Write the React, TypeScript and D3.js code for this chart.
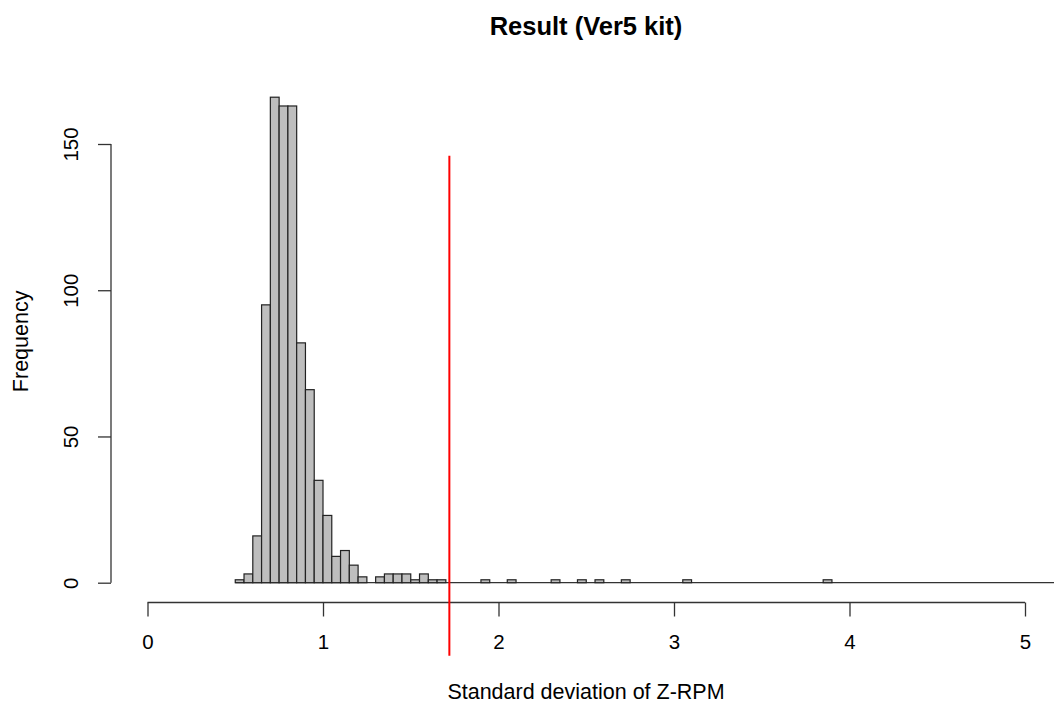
import { useEffect, useRef } from 'react';
import * as d3 from 'd3';

// histogram bins of width 0.05, starting at 0.5
const binStart = 0.5;
const binWidth = 0.05;
const mainCounts = [1, 3, 16, 95, 166, 163, 163, 82, 66, 35, 23, 9, 11, 6, 2, 0, 2, 3, 3, 3, 1, 3, 1, 1];
// single-sample bins further out (left edge of bin)
const outlierBins = [1.9, 2.05, 2.3, 2.45, 2.55, 2.7, 3.05, 3.85];
const outlierCounts = [1, 1, 1, 1, 1, 1, 1, 1];

const xTicks = [0, 1, 2, 3, 4, 5];
const yTicks = [0, 50, 100, 150];
const cutoff = 1.72;
const cutoffSpan = [-25, 146];

export default function App() {
  const svgRef = useRef<SVGSVGElement>(null);
  const width = 1054;
  const height = 707;

  useEffect(() => {
    const svg = d3.select(svgRef.current);
    svg.selectAll('*').remove();
    svg.attr('width', width).attr('height', height);

    const font = 'Liberation Sans, Arial, sans-serif';
    const x = d3.scaleLinear().domain([0, 5]).range([147.5, 1025]);
    const y = d3.scaleLinear().domain([0, 150]).range([582.7, 144]);

    const bins = [
      ...mainCounts.map((c, i) => ({ x0: binStart + i * binWidth, n: c })),
      ...outlierBins.map((b, i) => ({ x0: b, n: outlierCounts[i] })),
    ];

    // baseline of the empty bins
    svg.append('line')
      .attr('x1', x(binStart)).attr('x2', width)
      .attr('y1', y(0)).attr('y2', y(0))
      .attr('stroke', '#333').attr('stroke-width', 1.2);

    // Bars
    svg.append('g')
      .selectAll('rect')
      .data(bins.filter(d => d.n > 0))
      .join('rect')
      .attr('x', d => x(d.x0))
      .attr('y', d => y(d.n))
      .attr('width', d => x(d.x0 + binWidth) - x(d.x0))
      .attr('height', d => y(0) - y(d.n))
      .attr('fill', '#bebebe')
      .attr('stroke', '#222')
      .attr('stroke-width', 1.2);

    // X axis
    const axY = 602.5;
    const gx = svg.append('g').attr('transform', `translate(0,${axY})`);
    gx.call(d3.axisBottom(x).tickValues(xTicks).tickSize(14).tickPadding(18).tickFormat(d3.format('d')));
    gx.select('.domain').attr('d', `M${x(0)},0H${x(5)}`);

    // Y axis
    const axX = 111;
    const gy = svg.append('g').attr('transform', `translate(${axX},0)`);
    gy.call(d3.axisLeft(y).tickValues(yTicks).tickSize(13).tickFormat(d3.format('d')));
    gy.select('.domain').attr('d', `M0,${y(0)}V${y(150)}`);
    gy.selectAll('.tick text')
      .attr('x', 0).attr('dy', null)
      .attr('transform', 'translate(-38,0) rotate(-90)')
      .attr('text-anchor', 'middle')
      .attr('dominant-baseline', 'middle');

    svg.selectAll('.domain, .tick line').attr('stroke', '#333').attr('stroke-width', 1.3);
    svg.selectAll('.tick text')
      .attr('fill', '#000')
      .attr('font-family', font)
      .attr('font-size', 20.5);

    // Cutoff line
    svg.append('line')
      .attr('x1', x(cutoff)).attr('x2', x(cutoff))
      .attr('y1', y(cutoffSpan[0])).attr('y2', y(cutoffSpan[1]))
      .attr('stroke', '#ff0000').attr('stroke-width', 2);

    // Titles
    svg.append('text')
      .attr('x', 586).attr('y', 28)
      .attr('text-anchor', 'middle').attr('dominant-baseline', 'middle')
      .attr('font-family', font).attr('font-weight', 'bold').attr('font-size', 25.5)
      .text('Result (Ver5 kit)');

    svg.append('text')
      .attr('x', 586).attr('y', 693)
      .attr('text-anchor', 'middle').attr('dominant-baseline', 'middle')
      .attr('font-family', font).attr('font-size', 21.5)
      .text('Standard deviation of Z-RPM');

    svg.append('text')
      .attr('transform', `translate(22,${(y(0) + y(150)) / 2 - 22}) rotate(-90)`)
      .attr('text-anchor', 'middle').attr('dominant-baseline', 'middle')
      .attr('font-family', font).attr('font-size', 21.5)
      .text('Frequency');
  }, []);

  return (
    <div style={{ position: 'absolute', left: 0, top: 0 }}>
      <svg ref={svgRef} style={{ display: 'block', background: '#fff' }} />
    </div>
  );
}
